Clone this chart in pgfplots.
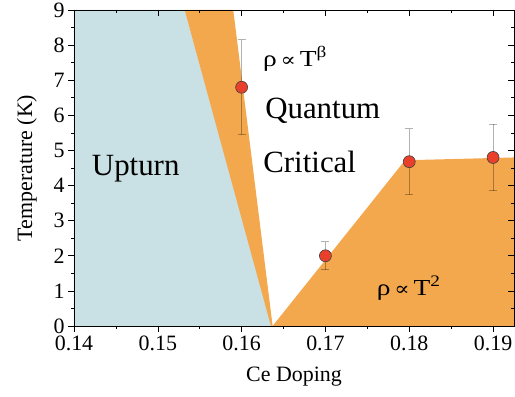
\documentclass[border=0pt]{standalone}
\usepackage{pgfplots}
\pgfplotsset{compat=1.18}
\usepackage{fontspec}
\setmainfont{Liberation Serif}
\newfontfamily\tnr{Liberation Serif}
\newfontfamily\dvs{DejaVu Serif}
\definecolor{upblue}{HTML}{C9E0E4}
\definecolor{qorange}{HTML}{F3A84D}
\definecolor{ptred}{HTML}{E8402A}
\newcommand{\prop}{{\dvs\fontsize{19}{20}\selectfont\,∝\,}}
\begin{document}
\begin{tikzpicture}
\pgfplotsset{
  base/.style={
    scale only axis, width=440bp, height=316bp,
    xmin=0.14, xmax=0.1925, ymin=0, ymax=9,
    xtick={0.14,0.15,0.16,0.17,0.18,0.19},
    ytick={0,1,2,3,4,5,6,7,8,9},
    minor x tick num=1, minor y tick num=1,
    major tick length=6bp, minor tick length=3bp,
    axis line style={black, line width=0.8pt},
    every tick/.style={black, line width=0.6pt},
  }
}
\begin{axis}[base, name=ax,
    tick align=outside, xtick pos=bottom, ytick pos=left,
    axis on top, clip marker paths=true,
    /pgf/number format/assume math mode=true,
    xticklabel style={/pgf/number format/fixed, /pgf/number format/fixed zerofill, /pgf/number format/precision=2},
    tick label style={font=\tnr\fontsize{22}{26}\selectfont},
    label style={font=\tnr\fontsize{22}{26}\selectfont},
    xlabel={Ce Doping}, ylabel={Temperature (K)},
    xlabel style={yshift=-10bp},
    ylabel style={yshift=10bp},
  ]
\addplot[fill=upblue, draw=none] coordinates {(0.14,0) (0.14,9) (0.1532,9) (0.1636,0)} -- cycle;
\addplot[fill=qorange, draw=none] coordinates {(0.1532,9) (0.1590,9) (0.1637,0) (0.1635,0)} -- cycle;
\addplot[fill=qorange, draw=none] coordinates {(0.1637,0) (0.1795,4.72) (0.1925,4.80) (0.1925,0)} -- cycle;
\addplot[only marks, mark=*, mark size=6bp,
  mark options={fill=ptred, draw=black!75, line width=0.6pt},
  error bars/.cd, y dir=both, y explicit,
  error bar style={black, opacity=0.3, line width=1pt},
  error mark options={rotate=90, mark size=4bp, black, opacity=0.3, line width=1pt}]
  table[x=x, y=y, y error=e] {
  x     y     e
  0.160 6.80  1.35
  0.170 2.00  0.40
  0.180 4.68  0.94
  0.190 4.80  0.95
  };
\addplot[only marks, mark=*, mark size=6bp, mark options={fill=ptred, draw=black!75, line width=0.6pt}]
  coordinates {(0.165,-0.13)};
\node[anchor=base west, inner sep=0pt, font=\tnr\fontsize{31}{34}\selectfont] at (axis cs:0.14212,4.30) {Upturn};
\node[anchor=base west, inner sep=0pt, font=\tnr\fontsize{23}{27}\selectfont] at (axis cs:0.16255,7.39) {\scalebox{1.2}[1]{ρ\prop T\textsuperscript{β}}};
\node[anchor=base west, inner sep=0pt, font=\tnr\fontsize{31}{34}\selectfont] at (axis cs:0.1628,5.92) {Quantum};
\node[anchor=base west, inner sep=0pt, font=\tnr\fontsize{31}{34}\selectfont] at (axis cs:0.16257,4.38) {Critical};
\node[anchor=base west, inner sep=0pt, font=\tnr\fontsize{23}{27}\selectfont] at (axis cs:0.17612,0.88) {\scalebox{1.2}[1]{ρ\prop T\textsuperscript{2}}};
\end{axis}
\begin{axis}[base, at={(ax.south west)}, anchor=south west,
    tick align=inside, xtick pos=top, ytick pos=right,
    xticklabels={}, yticklabels={}]
\end{axis}
\pgfresetboundingbox
\path ([shift={(-74bp,-71bp)}]ax.south west) rectangle ([shift={(1bp,10bp)}]ax.north east);
\end{tikzpicture}
\end{document}
